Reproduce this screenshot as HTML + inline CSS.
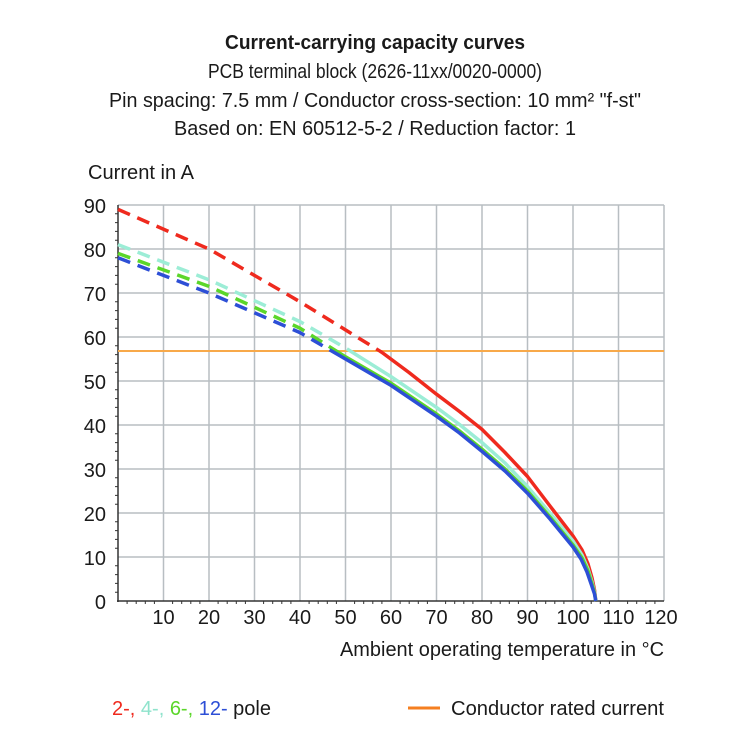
<!DOCTYPE html>
<html><head><style>body{margin:0;background:#fff}svg{display:block}</style></head><body>
<svg width="750" height="750" xmlns="http://www.w3.org/2000/svg" font-family="Liberation Sans, sans-serif" fill="#1a1a1a">
<defs>
<clipPath id="top"><rect x="100" y="150" width="600" height="201"/></clipPath>
<clipPath id="bot"><rect x="100" y="351" width="600" height="260"/></clipPath>
</defs>
<g text-anchor="middle" font-size="20">
<text x="375" y="49" font-weight="bold" textLength="300" lengthAdjust="spacingAndGlyphs">Current-carrying capacity curves</text>
<text x="375" y="78" textLength="334" lengthAdjust="spacingAndGlyphs">PCB terminal block (2626-11xx/0020-0000)</text>
<text x="375" y="107" textLength="532" lengthAdjust="spacingAndGlyphs">Pin spacing: 7.5 mm / Conductor cross-section: 10 mm² "f-st"</text>
<text x="375" y="135" textLength="402" lengthAdjust="spacingAndGlyphs">Based on: EN 60512-5-2 / Reduction factor: 1</text>
</g>
<text x="88" y="179" font-size="20" textLength="106" lengthAdjust="spacingAndGlyphs">Current in A</text>
<g stroke="#b8bec2" stroke-width="1.5">
<line x1="163.5" y1="205" x2="163.5" y2="601"/><line x1="209" y1="205" x2="209" y2="601"/><line x1="254.5" y1="205" x2="254.5" y2="601"/><line x1="300" y1="205" x2="300" y2="601"/><line x1="345.5" y1="205" x2="345.5" y2="601"/><line x1="391" y1="205" x2="391" y2="601"/><line x1="436.5" y1="205" x2="436.5" y2="601"/><line x1="482" y1="205" x2="482" y2="601"/><line x1="527.5" y1="205" x2="527.5" y2="601"/><line x1="573" y1="205" x2="573" y2="601"/><line x1="618.5" y1="205" x2="618.5" y2="601"/><line x1="664" y1="205" x2="664" y2="601"/>
<line x1="118" y1="205" x2="664" y2="205"/><line x1="118" y1="249" x2="664" y2="249"/><line x1="118" y1="293" x2="664" y2="293"/><line x1="118" y1="337" x2="664" y2="337"/><line x1="118" y1="381" x2="664" y2="381"/><line x1="118" y1="425" x2="664" y2="425"/><line x1="118" y1="469" x2="664" y2="469"/><line x1="118" y1="513" x2="664" y2="513"/><line x1="118" y1="557" x2="664" y2="557"/>
</g>
<g stroke="#333" stroke-width="1.5">
<line x1="118" y1="205" x2="118" y2="602"/><line x1="117" y1="601" x2="664" y2="601"/>
</g>
<g stroke="#333" stroke-width="1">
<path d="M118 213.8h-3M118 222.6h-3M118 231.4h-3M118 240.2h-3M118 257.8h-3M118 266.6h-3M118 275.4h-3M118 284.2h-3M118 301.8h-3M118 310.6h-3M118 319.4h-3M118 328.2h-3M118 345.8h-3M118 354.6h-3M118 363.4h-3M118 372.2h-3M118 389.8h-3M118 398.6h-3M118 407.4h-3M118 416.2h-3M118 433.8h-3M118 442.6h-3M118 451.4h-3M118 460.2h-3M118 477.8h-3M118 486.6h-3M118 495.4h-3M118 504.2h-3M118 521.8h-3M118 530.6h-3M118 539.4h-3M118 548.2h-3M118 565.8h-3M118 574.6h-3M118 583.4h-3M118 592.2h-3"/>
<path d="M127.1 601v3M136.2 601v3M145.3 601v3M154.4 601v3M172.6 601v3M181.7 601v3M190.8 601v3M199.9 601v3M218.1 601v3M227.2 601v3M236.3 601v3M245.4 601v3M263.6 601v3M272.7 601v3M281.8 601v3M290.9 601v3M309.1 601v3M318.2 601v3M327.3 601v3M336.4 601v3M354.6 601v3M363.7 601v3M372.8 601v3M381.9 601v3M400.1 601v3M409.2 601v3M418.3 601v3M427.4 601v3M445.6 601v3M454.7 601v3M463.8 601v3M472.9 601v3M491.1 601v3M500.2 601v3M509.3 601v3M518.4 601v3M536.6 601v3M545.7 601v3M554.8 601v3M563.9 601v3M582.1 601v3M591.2 601v3M600.3 601v3M609.4 601v3M627.6 601v3M636.7 601v3M645.8 601v3M654.9 601v3"/>
</g>
<g font-size="20" text-anchor="end">
<text x="106" y="213">90</text><text x="106" y="257">80</text><text x="106" y="301">70</text><text x="106" y="345">60</text><text x="106" y="389">50</text><text x="106" y="433">40</text><text x="106" y="477">30</text><text x="106" y="521">20</text><text x="106" y="565">10</text><text x="106" y="609">0</text>
</g>
<g font-size="20" text-anchor="middle">
<text x="163.5" y="624">10</text><text x="209" y="624">20</text><text x="254.5" y="624">30</text><text x="300" y="624">40</text><text x="345.5" y="624">50</text><text x="391" y="624">60</text><text x="436.5" y="624">70</text><text x="482" y="624">80</text><text x="527.5" y="624">90</text><text x="573" y="624">100</text><text x="618.5" y="624">110</text><text x="661" y="624">120</text>
</g>
<text x="340" y="656" font-size="20" textLength="324" lengthAdjust="spacingAndGlyphs">Ambient operating temperature in °C</text>
<line x1="118" y1="351" x2="664" y2="351" stroke="#f8a94a" stroke-width="2"/>
<g fill="none" stroke-width="3.5" stroke-linejoin="round" stroke-linecap="butt">
<g clip-path="url(#top)" stroke-dasharray="13,8">
<polyline stroke="#ef2a1e" points="118,209.4 209,249 300,301.8 381.9,352.4 436.5,394.2"/>
<polyline stroke="#9cedd6" points="118,244.6 209,279.8 300,321.6 345.5,348 391,376.6"/>
<polyline stroke="#5bd62a" points="118,253.4 209,286.4 300,328.2 345.5,356.8"/>
<polyline stroke="#2d4fd6" points="118,257.8 209,293 300,332.6 345.5,359"/>
</g>
<g clip-path="url(#bot)">
<polyline stroke="#ef2a1e" points="118,209.4 209,249 300,301.8 345.5,328 381.9,352.4 409,372.5 436.5,394.2 459.5,411.5 482,429.4 505,452.5 527.5,476.5 550,506 573,536 582,550 588,564 592,578 594.5,590 595.8,601"/>
<polyline stroke="#9cedd6" points="118,244.6 209,279.8 300,321.6 345.5,348 391,376.6 436.5,407.4 459.5,424.5 482,442.6 505,463 527.5,486.6 550,513 573,541 582,555 588,569 592,582 594.5,592 595.8,601"/>
<polyline stroke="#5bd62a" points="118,253.4 209,286.4 300,328.2 345.5,356.8 391,383.2 436.5,414 459.5,431 482,449.2 505,469 527.5,491 550,517 573,545 582,558 588,571 592,584 594.5,593 595.8,601"/>
<polyline stroke="#2d4fd6" points="118,257.8 209,293 300,332.6 345.5,359 391,385.4 436.5,416.2 459.5,433 482,451.4 505,471 527.5,493.2 550,519 573,547 581,559 587,572 591.5,585 594.5,594 595.8,601"/>
</g>
</g>
<text x="112" y="715" font-size="20"><tspan fill="#ef2a1e">2-,</tspan> <tspan fill="#8fe3cc">4-,</tspan> <tspan fill="#5bd62a">6-,</tspan> <tspan fill="#2d4fd6">12-</tspan> pole</text>
<line x1="408" y1="708" x2="440" y2="708" stroke="#f57f20" stroke-width="3"/>
<text x="451" y="715" font-size="20" textLength="213" lengthAdjust="spacingAndGlyphs">Conductor rated current</text>
</svg>
</body></html>
